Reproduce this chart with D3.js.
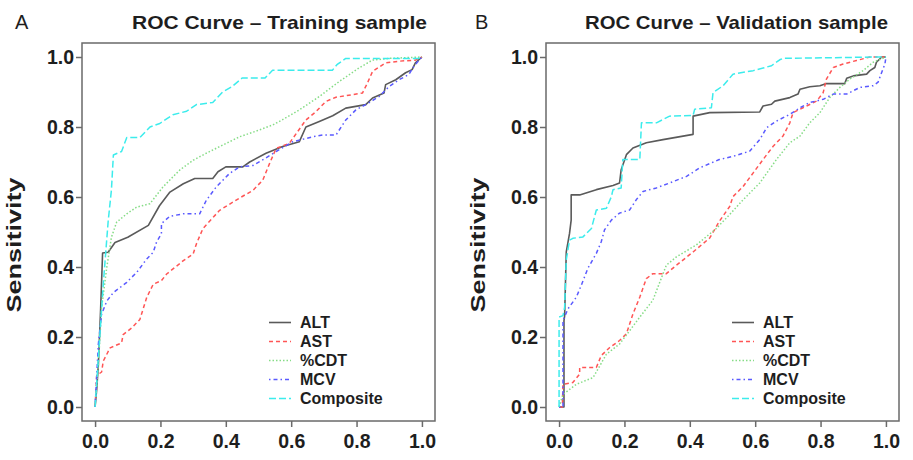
<!DOCTYPE html>
<html>
<head>
<meta charset="utf-8">
<script src="https://cdn.jsdelivr.net/npm/d3@7"></script>
<style>
  html, body { margin: 0; padding: 0; background: #fff; }
  svg { display: block; font-family: "Liberation Sans", Arial, sans-serif; }
</style>
</head>
<body>
<svg id="chart" width="913" height="460"></svg>
<script>
// ---------------- DATA ----------------
const seriesNames = ["ALT", "AST", "%CDT", "MCV", "Composite"];
const tickValues = [0.0, 0.2, 0.4, 0.6, 0.8, 1.0];
const tickLabels = ["0.0", "0.2", "0.4", "0.6", "0.8", "1.0"];
const panelLetters = ["A", "B"];
const panelTitles = ["ROC Curve \u2013 Training sample", "ROC Curve \u2013 Validation sample"];
const yAxisTitle = "Sensitivity";

// Training sample: [1 - specificity, sensitivity]
const trainALT = [[0,0],[0.005,0.05],[0.01,0.12],[0.017,0.28],[0.023,0.44],[0.04,0.442],[0.061,0.47],[0.10,0.485],[0.163,0.519],[0.197,0.575],[0.229,0.614],[0.27,0.638],[0.305,0.653],[0.36,0.653],[0.376,0.672],[0.40,0.686],[0.452,0.686],[0.473,0.70],[0.523,0.725],[0.574,0.744],[0.625,0.758],[0.645,0.80],[0.686,0.816],[0.727,0.832],[0.767,0.854],[0.828,0.864],[0.849,0.883],[0.884,0.897],[0.889,0.921],[0.92,0.935],[0.95,0.955],[0.97,0.964],[0.98,0.983],[1,1]];
const trainAST = [[0,0],[0.005,0.09],[0.02,0.10],[0.025,0.131],[0.046,0.169],[0.081,0.183],[0.086,0.207],[0.112,0.226],[0.137,0.25],[0.158,0.313],[0.178,0.351],[0.203,0.361],[0.219,0.38],[0.27,0.418],[0.30,0.437],[0.31,0.466],[0.33,0.51],[0.381,0.562],[0.442,0.597],[0.483,0.619],[0.513,0.648],[0.534,0.696],[0.554,0.739],[0.594,0.753],[0.645,0.82],[0.676,0.844],[0.706,0.873],[0.737,0.885],[0.818,0.897],[0.833,0.925],[0.849,0.959],[0.889,0.983],[0.93,0.988],[0.98,0.991],[1,1]];
const trainCDT = [[0,0],[0.01,0.12],[0.02,0.284],[0.036,0.40],[0.05,0.485],[0.066,0.528],[0.097,0.552],[0.127,0.571],[0.168,0.581],[0.208,0.629],[0.259,0.677],[0.30,0.705],[0.34,0.725],[0.381,0.744],[0.442,0.772],[0.483,0.785],[0.544,0.806],[0.564,0.816],[0.625,0.849],[0.686,0.887],[0.747,0.93],[0.808,0.969],[0.848,0.991],[0.90,0.996],[1,1]];
const trainMCV = [[0,0],[0.01,0.179],[0.02,0.265],[0.036,0.303],[0.056,0.327],[0.076,0.341],[0.097,0.356],[0.107,0.366],[0.127,0.384],[0.158,0.423],[0.178,0.442],[0.188,0.471],[0.203,0.495],[0.203,0.524],[0.229,0.545],[0.27,0.552],[0.32,0.552],[0.34,0.59],[0.371,0.629],[0.411,0.667],[0.442,0.686],[0.483,0.69],[0.523,0.712],[0.554,0.73],[0.605,0.758],[0.666,0.772],[0.696,0.777],[0.737,0.777],[0.767,0.82],[0.798,0.849],[0.828,0.864],[0.869,0.887],[0.90,0.916],[0.93,0.935],[0.96,0.95],[0.976,0.974],[1,1]];
const trainComposite = [[0,0],[0.015,0.21],[0.025,0.35],[0.04,0.53],[0.05,0.62],[0.056,0.72],[0.081,0.73],[0.097,0.77],[0.137,0.77],[0.168,0.80],[0.198,0.81],[0.238,0.835],[0.28,0.845],[0.31,0.864],[0.36,0.87],[0.39,0.90],[0.42,0.916],[0.45,0.94],[0.52,0.94],[0.543,0.962],[0.726,0.962],[0.74,0.978],[0.767,0.996],[0.99,0.996],[1,1]];

// Validation sample
const validALT = [[0,0],[0.015,0.0],[0.015,0.247],[0.017,0.26],[0.022,0.443],[0.032,0.496],[0.037,0.534],[0.037,0.606],[0.063,0.606],[0.114,0.621],[0.165,0.633],[0.185,0.64],[0.19,0.678],[0.206,0.721],[0.226,0.74],[0.267,0.755],[0.318,0.764],[0.41,0.779],[0.41,0.831],[0.461,0.841],[0.614,0.843],[0.624,0.86],[0.65,0.865],[0.66,0.874],[0.706,0.884],[0.731,0.894],[0.737,0.908],[0.767,0.915],[0.798,0.918],[0.818,0.924],[0.874,0.924],[0.88,0.939],[0.90,0.946],[0.941,0.951],[0.951,0.961],[0.966,0.97],[0.971,0.985],[0.987,1.0],[1,1]];
const validAST = [[0,0],[0.01,0.0],[0.012,0.065],[0.042,0.07],[0.063,0.094],[0.063,0.113],[0.114,0.113],[0.129,0.147],[0.155,0.17],[0.185,0.19],[0.206,0.209],[0.226,0.266],[0.247,0.314],[0.267,0.367],[0.287,0.381],[0.328,0.381],[0.359,0.405],[0.41,0.443],[0.461,0.483],[0.49,0.53],[0.522,0.573],[0.532,0.601],[0.563,0.63],[0.594,0.669],[0.624,0.707],[0.655,0.745],[0.685,0.774],[0.706,0.812],[0.716,0.841],[0.757,0.86],[0.788,0.874],[0.808,0.898],[0.818,0.937],[0.839,0.97],[0.869,0.98],[0.91,0.99],[0.951,1.0],[1,1]];
const validCDT = [[0,0],[0.012,0.036],[0.053,0.065],[0.104,0.084],[0.145,0.151],[0.185,0.18],[0.216,0.218],[0.247,0.257],[0.287,0.305],[0.328,0.405],[0.359,0.429],[0.42,0.463],[0.481,0.51],[0.522,0.55],[0.563,0.592],[0.614,0.64],[0.665,0.707],[0.706,0.755],[0.737,0.774],[0.767,0.812],[0.798,0.841],[0.828,0.884],[0.859,0.913],[0.89,0.937],[0.93,0.961],[0.961,0.985],[1,1]];
const validMCV = [[0,0],[0.012,0.0],[0.012,0.247],[0.027,0.28],[0.053,0.314],[0.068,0.348],[0.088,0.396],[0.114,0.439],[0.129,0.472],[0.139,0.506],[0.16,0.534],[0.185,0.554],[0.216,0.563],[0.236,0.592],[0.257,0.616],[0.298,0.626],[0.338,0.64],[0.39,0.659],[0.43,0.683],[0.49,0.707],[0.532,0.716],[0.583,0.731],[0.614,0.764],[0.635,0.798],[0.665,0.817],[0.706,0.836],[0.737,0.855],[0.767,0.87],[0.808,0.879],[0.839,0.894],[0.88,0.894],[0.92,0.913],[0.961,0.918],[0.976,0.928],[0.987,0.956],[0.997,0.98],[1,1]];
const validComposite = [[0,0],[0,0.257],[0.012,0.261],[0.017,0.285],[0.022,0.42],[0.032,0.477],[0.042,0.482],[0.073,0.486],[0.099,0.51],[0.114,0.563],[0.145,0.568],[0.16,0.601],[0.165,0.621],[0.19,0.626],[0.195,0.707],[0.247,0.707],[0.252,0.812],[0.298,0.812],[0.338,0.831],[0.41,0.833],[0.415,0.851],[0.466,0.855],[0.471,0.898],[0.502,0.918],[0.532,0.951],[0.594,0.961],[0.65,0.975],[0.675,0.992],[0.685,0.996],[0.98,1.0],[1,1]];

// ---------------- STYLES ----------------
const seriesStyle = [
  { color: "#5a5a5a", dash: null,        width: 1.6 },
  { color: "#ff5555", dash: "4,3",       width: 1.5 },
  { color: "#86dc86", dash: "1.5,2",     width: 1.5 },
  { color: "#5a5aff", dash: "1.5,3,4,3", width: 1.5 },
  { color: "#3cecec", dash: "7,3",       width: 1.5 }
];

const panels = [
  { letter: panelLetters[0], title: panelTitles[0], data: [trainALT, trainAST, trainCDT, trainMCV, trainComposite],
    box: [82, 435], letterX: 15, titleX: 132, titleLen: 295, legX: 269 },
  { letter: panelLetters[1], title: panelTitles[1], data: [validALT, validAST, validCDT, validMCV, validComposite],
    box: [546, 899], letterX: 475, titleX: 585, titleLen: 303, legX: 732 }
];

const svg = d3.select("#chart");
const boxTop = 43, boxBottom = 421;
const axisColor = "#6a6a6a";
const textColor = "#1e1e1e";

panels.forEach(p => {
  const x = d3.scaleLinear().domain([-0.04, 1.04]).range(p.box);
  const y = d3.scaleLinear().domain([-0.04, 1.04]).range([boxBottom, boxTop]);
  const g = svg.append("g");

  // letter & title
  g.append("text").attr("x", p.letterX).attr("y", 28.5)
    .attr("font-size", 20).attr("fill", textColor).text(p.letter);
  g.append("text").attr("x", p.titleX).attr("y", 28.5)
    .attr("font-size", 19).attr("font-weight", "bold")
    .attr("textLength", p.titleLen).attr("lengthAdjust", "spacingAndGlyphs")
    .attr("fill", textColor).text(p.title);

  // box
  g.append("rect").attr("x", p.box[0]).attr("y", boxTop)
    .attr("width", p.box[1] - p.box[0]).attr("height", boxBottom - boxTop)
    .attr("fill", "none").attr("stroke", axisColor).attr("stroke-width", 1.5);

  // axes
  const xAxis = d3.axisBottom(x).tickValues(tickValues)
    .tickFormat((d, i) => tickLabels[i]).tickSize(6).tickPadding(7);
  const gx = g.append("g").attr("transform", `translate(0,${boxBottom})`).call(xAxis);
  const yAxis = d3.axisLeft(y).tickValues(tickValues)
    .tickFormat((d, i) => tickLabels[i]).tickSize(6).tickPadding(2);
  const gy = g.append("g").attr("transform", `translate(${p.box[0]},0)`).call(yAxis);
  [gx, gy].forEach(a => {
    a.select(".domain").remove();
    a.selectAll(".tick line").attr("stroke", axisColor).attr("stroke-width", 1.5);
    a.selectAll(".tick text").attr("fill", textColor).attr("font-size", 19.5)
      .attr("font-weight", "bold").attr("font-family", "Liberation Sans, Arial, sans-serif");
  });

  // y title
  g.append("text")
    .attr("transform", `translate(${p.box[0] - 61},${(boxTop + boxBottom) / 2 + 13}) rotate(-90)`)
    .attr("text-anchor", "middle").attr("font-size", 21).attr("font-weight", "bold")
    .attr("fill", textColor)
    .attr("textLength", 135).attr("lengthAdjust", "spacingAndGlyphs")
    .text(yAxisTitle);

  // curves
  const line = d3.line().x(d => x(d[0])).y(d => y(d[1]));
  p.data.forEach((s, i) => {
    const st = seriesStyle[i];
    g.append("path").datum(s).attr("d", line)
      .attr("fill", "none").attr("stroke", st.color).attr("stroke-width", st.width)
      .attr("stroke-dasharray", st.dash).attr("stroke-linejoin", "round");
  });

  // legend
  const lg = g.append("g");
  seriesNames.forEach((name, i) => {
    const st = seriesStyle[i];
    const yy = 322.5 + i * 19;
    lg.append("line").attr("x1", p.legX).attr("x2", p.legX + 22)
      .attr("y1", yy).attr("y2", yy)
      .attr("stroke", st.color).attr("stroke-width", st.width)
      .attr("stroke-dasharray", st.dash);
    lg.append("text").attr("x", p.legX + 31).attr("y", yy).attr("dy", "0.36em")
      .attr("font-size", 16).attr("font-weight", "bold").attr("fill", textColor)
      .text(name);
  });
});
</script>
</body>
</html>
